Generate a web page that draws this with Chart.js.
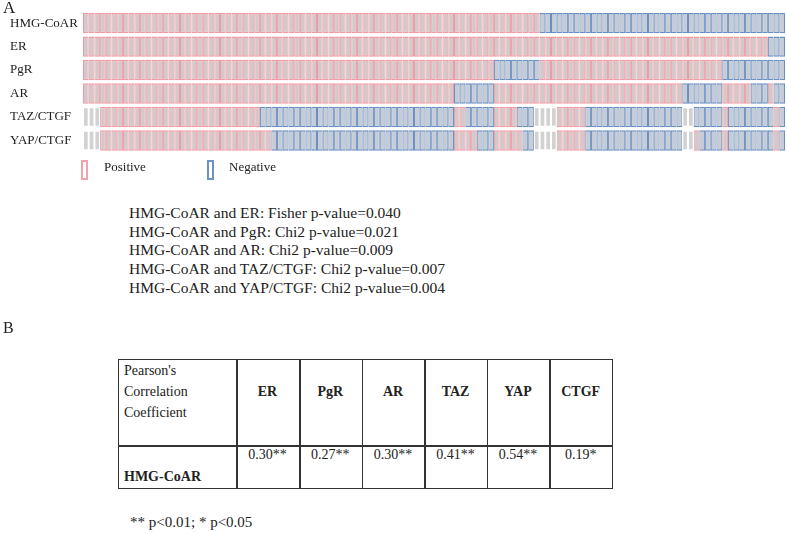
<!DOCTYPE html>
<html>
<head>
<meta charset="utf-8">
<script src="https://cdn.jsdelivr.net/npm/chart.js@4/dist/chart.umd.min.js"></script>
<style>
  html, body { margin: 0; padding: 0; background: #fff; }
  body { width: 787px; height: 533px; position: relative; overflow: hidden;
         font-family: 'Liberation Serif', 'Times New Roman', serif; color: #222; }
  .t { position: absolute; white-space: nowrap; }
  .box { position: absolute; box-sizing: border-box; width: 7px; height: 20px; border: 2px solid; }
  .cell { position: absolute; box-sizing: border-box; border: 1.5px solid #333; }
  #grid { position: absolute; left: 0; top: 0; width: 787px; height: 160px; }
</style>
</head>
<body>
<div id="grid"><canvas id="status-chart"></canvas></div>

<div class="t" style="left:3px;top:-2px;font-size:17px;line-height:20px;">A</div>

<div class="box" style="left:81px;top:160px;border-color:#f2a2ab;"></div>
<div class="t" style="left:104px;top:158px;font-size:13px;line-height:18px;">Positive</div>
<div class="box" style="left:207px;top:160px;border-color:#6f92c2;"></div>
<div class="t" style="left:229px;top:158px;font-size:13px;line-height:18px;">Negative</div>

<div id="stats"></div>

<div class="t" style="left:3px;top:318px;font-size:16px;line-height:20px;">B</div>

<div id="table"></div>

<div class="t" style="left:130px;top:512px;font-size:15px;line-height:20px;">** p&lt;0.01; * p&lt;0.05</div>

<script>
// patients along the x axis, one status row per marker
const patientCount = 123;
const rowLabels = ['HMG-CoAR', 'ER', 'PgR', 'AR', 'TAZ/CTGF', 'YAP/CTGF'];

// runs of [status, number of patients]; 1 = positive, 0 = negative, -1 = not available
const hmgRuns = [[1, 80], [0, 43]];
const erRuns  = [[1, 120], [0, 3]];
const pgrRuns = [[1, 72], [0, 8], [1, 32], [0, 11]];
const arRuns  = [[1, 65], [0, 7], [1, 33], [0, 7], [1, 5], [0, 3], [1, 1], [0, 2]];
const tazRuns = [[-1, 3], [1, 28], [0, 34], [1, 2], [0, 5], [1, 4], [0, 3], [-1, 4],
                 [1, 5], [0, 17], [-1, 2], [0, 5], [1, 1], [0, 8], [1, 1], [0, 1]];
const yapRuns = [[-1, 3], [1, 30], [0, 32], [1, 4], [0, 3], [1, 5], [0, 2], [-1, 4],
                 [1, 5], [0, 17], [-1, 2], [1, 1], [0, 4], [1, 1], [0, 8], [1, 1], [0, 1]];

const statsLines = [
  'HMG-CoAR and ER: Fisher p-value=0.040',
  'HMG-CoAR and PgR: Chi2 p-value=0.021',
  'HMG-CoAR and AR: Chi2 p-value=0.009',
  'HMG-CoAR and TAZ/CTGF: Chi2 p-value=0.007',
  'HMG-CoAR and YAP/CTGF: Chi2 p-value=0.004'
];

const tableMarkers = ['ER', 'PgR', 'AR', 'TAZ', 'YAP', 'CTGF'];
const tableValues = ['0.30**', '0.27**', '0.30**', '0.41**', '0.54**', '0.19*'];

const borderColors = { '1': '#f19aa4', '0': '#6a8fc2', '-1': '#ffffff' };
const fillColors = { '1': '#d3c9cb', '0': '#c6ccd6', '-1': '#d2d2d2' };

function expand(runs) {
  const out = [];
  runs.forEach(([s, n]) => { for (let i = 0; i < n; i++) out.push(s); });
  return out;
}

const allRuns = [hmgRuns, erRuns, pgrRuns, arRuns, tazRuns, yapRuns];

const datasets = allRuns.map((runs, r) => {
  const status = expand(runs);
  return {
    label: rowLabels[r],
    data: status.map((s, p) => ({ x: [p, p + 1], y: rowLabels[r] })),
    backgroundColor: ctx => fillColors[status[ctx.dataIndex]],
    borderColor: ctx => borderColors[status[ctx.dataIndex]],
    borderWidth: { top: 1.5, bottom: 1.5, left: 1, right: 1 },
    borderSkipped: false,
    categoryPercentage: 1,
    barPercentage: 0.87,
    grouped: false
  };
});

new Chart(document.getElementById('status-chart').getContext('2d'), {
  type: 'bar',
  data: { labels: rowLabels, datasets: datasets },
  options: {
    indexAxis: 'y',
    responsive: true,
    maintainAspectRatio: false,
    animation: false,
    layout: { padding: { left: 10, right: 2, top: 11.4, bottom: 3.4 } },
    plugins: { legend: { display: false }, tooltip: { enabled: false } },
    scales: {
      x: { type: 'linear', min: 0, max: patientCount, display: false },
      y: {
        type: 'category',
        grid: { display: false },
        border: { display: false },
        ticks: {
          color: '#222',
          crossAlign: 'far',
          padding: 0,
          font: { family: 'Liberation Serif', size: 13 }
        },
        afterFit: scale => { scale.width = 73; }
      }
    }
  }
});

// p-value lines
const stats = document.getElementById('stats');
statsLines.forEach((line, i) => {
  const d = document.createElement('div');
  d.className = 't';
  d.style.cssText = `left:129px;top:${203 + i * 18.7}px;font-size:15.5px;line-height:20px;`;
  d.textContent = line;
  stats.appendChild(d);
});

// correlation table
const table = document.getElementById('table');
const colEdges = [118, 236, 299, 361.7, 424.3, 486.7, 549.3, 612];
const rowEdges = [359, 445, 487];
function addCell(x0, x1, y0, y1) {
  const c = document.createElement('div');
  c.className = 'cell';
  c.style.cssText = `left:${x0}px;top:${y0}px;width:${x1 - x0 + 1.5}px;height:${y1 - y0 + 1.5}px;`;
  table.appendChild(c);
}
for (let r = 0; r < 2; r++) {
  for (let c = 0; c < colEdges.length - 1; c++) {
    addCell(colEdges[c], colEdges[c + 1], rowEdges[r], rowEdges[r + 1]);
  }
}
function addText(txt, x, y, opts) {
  const d = document.createElement('div');
  d.className = 't';
  d.style.cssText = `top:${y - 10}px;font-size:14px;line-height:20px;` + (opts || '');
  if (opts && opts.includes('center')) {
    d.style.left = (x - 40) + 'px';
    d.style.width = '80px';
  } else {
    d.style.left = x + 'px';
  }
  d.textContent = txt;
  table.appendChild(d);
}
['Pearson\'s', 'Correlation', 'Coefficient'].forEach((s, i) => addText(s, 124, 371 + i * 21));
addText('HMG-CoAR', 124, 477, 'font-weight:bold;');
tableMarkers.forEach((m, i) => {
  const cx = (colEdges[i + 1] + colEdges[i + 2]) / 2;
  addText(m, cx, 392, 'font-weight:bold;text-align:center;');
  addText(tableValues[i], cx, 455, 'text-align:center;');
});
</script>
</body>
</html>
